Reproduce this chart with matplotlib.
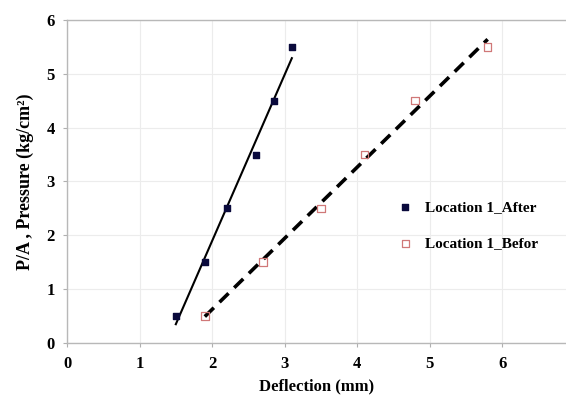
import numpy as np
import matplotlib.pyplot as plt

plt.rcParams['font.family'] = ['Liberation Serif', 'DejaVu Serif']
plt.rcParams['font.weight'] = 'bold'

# data
after_x = [1.5, 1.9, 2.2, 2.6, 2.85, 3.1]
after_y = [0.5, 1.5, 2.5, 3.5, 4.5, 5.5]
before_x = [1.9, 2.7, 3.5, 4.1, 4.8, 5.8]
before_y = [0.5, 1.5, 2.5, 3.5, 4.5, 5.5]

fig = plt.figure(figsize=(5.66, 3.98), dpi=100)
ax = fig.add_axes([0.1184, 0.138, 0.8816, 0.812])

# linear trendlines over each data range
for xs, ys, ls in [(after_x, after_y, '-'), (before_x, before_y, (0, (3.5, 2.2)))]:
    k, b = np.polyfit(xs, ys, 1)
    xx = np.array([min(xs), max(xs)])
    lw = 1.5 if ls == '-' else 2.6
    ax.plot(xx, k * xx + b, color='black', linestyle=ls, linewidth=lw, zorder=2)

ax.scatter(after_x, after_y, marker='s', s=22, color='#0a0a3c', zorder=3,
           label='Location 1_After')
ax.scatter(before_x, before_y, marker='s', s=30, facecolor='none',
           edgecolor='#d07878', linewidth=0.9, zorder=3, label='Location 1_Befor')

ax.set_xlim(0, 6.88)
ax.set_ylim(0, 6)
ax.set_xticks(range(0, 7))
ax.set_yticks(range(0, 7))
ax.tick_params(labelsize=12, length=3, color='#b0b0b0', pad=6)
ax.grid(color='#ececec', linewidth=0.8)
ax.set_axisbelow(True)
ax.spines['right'].set_visible(False)
for side in ['left', 'bottom', 'top']:
    ax.spines[side].set_color('#b8b8b8')
    ax.spines[side].set_linewidth(1.0)

ax.set_xlabel('Deflection (mm)', fontsize=12, fontweight='bold', labelpad=5)
ax.set_ylabel('P/A , Pressure (kg/cm²)', fontsize=13, fontweight='bold', labelpad=9)

ax.legend(loc='center left', bbox_to_anchor=(0.62, 0.365), frameon=False,
          handletextpad=0.3, labelspacing=1.5, markerscale=0.9,
          prop={'weight': 'bold', 'size': 11})

fig.savefig('out.png', dpi=100)
